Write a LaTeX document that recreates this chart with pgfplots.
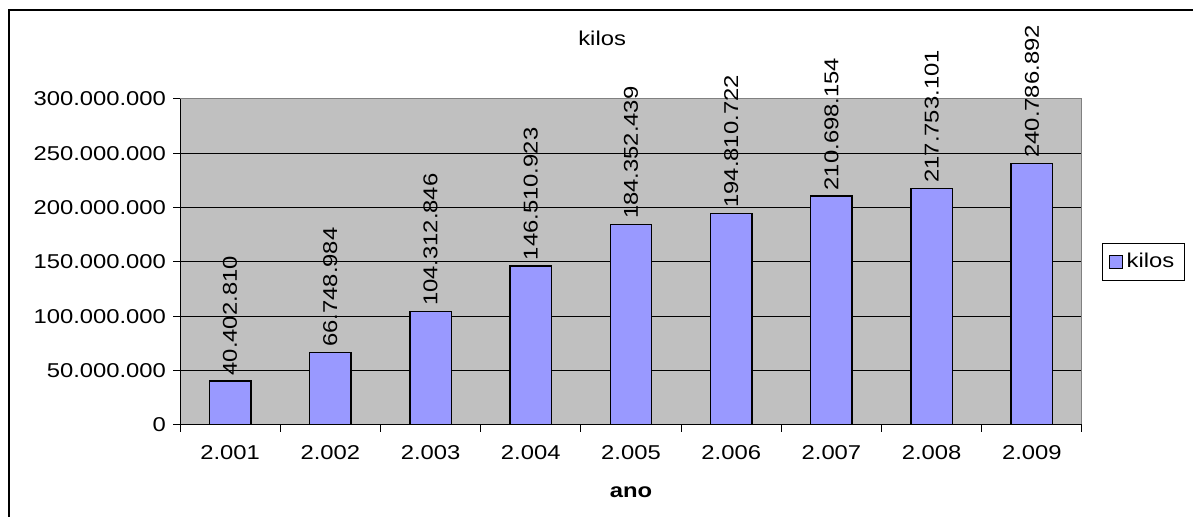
\documentclass[border=0pt]{standalone}
\usepackage{fontspec}
\setmainfont{Liberation Sans}[FakeStretch=1.19]
\usepackage{pgfplots}
\pgfplotsset{compat=1.18}
\usepackage{pgfplotstable}

\definecolor{plotgray}{HTML}{C0C0C0}
\definecolor{barblue}{HTML}{9999FF}
\definecolor{framegray}{HTML}{808080}

% kilos per year
\pgfplotstableread{
x y label
0 40402810 40.402.810
1 66748984 66.748.984
2 104312846 104.312.846
3 146510923 146.510.923
4 184352439 184.352.439
5 194810722 194.810.722
6 210698154 210.698.154
7 217753101 217.753.101
8 240786892 240.786.892
}\kilostable

\begin{document}
\fontsize{10}{12}\selectfont
\begin{tikzpicture}
\path[use as bounding box] (0,0) rectangle (596.5pt,258.5pt);
\draw[line width=1pt] (4.25pt,0) -- (4.25pt,253.5pt) -- (596.5pt,253.5pt);
\begin{axis}[
  at={(90pt,46pt)}, anchor=south west,
  scale only axis, width=451pt, height=163pt,
  xmin=-0.5, xmax=8.5, ymin=0, ymax=300000000,
  axis background/.style={fill=plotgray},
  axis line style={draw=none},
  ybar, bar width=20.7pt,
  xtick={0,1,2,3,4,5,6,7,8},
  xticklabels={2.001,2.002,2.003,2.004,2.005,2.006,2.007,2.008,2.009},
  xticklabel style={yshift=-3pt},
  minor xtick={-0.5,0.5,1.5,2.5,3.5,4.5,5.5,6.5,7.5,8.5},
  major x tick style={draw=none},
  minor x tick style={black, line width=0.5pt},
  xtick pos=bottom, ytick pos=left,
  ytick={0,50000000,100000000,150000000,200000000,250000000,300000000},
  yticklabels={0,50.000.000,100.000.000,150.000.000,200.000.000,250.000.000,300.000.000},
  scaled y ticks=false,
  y tick style={black, line width=0.5pt},
  tick align=outside,
  major tick length=3.5pt, minor tick length=3.5pt,
  ymajorgrids,
  major grid style={black, line width=0.5pt},
  title={kilos},
  every axis title shift=0pt,
  title style={at={(0.468,1.187)}, anchor=center},
  xlabel={\textbf{ano}},
  xlabel style={at={(0.5,-0.2055)}, anchor=center},
  legend style={at={(1.0222,0.5)}, anchor=west, draw=black, line width=0.5pt,
    inner xsep=3pt, inner ysep=3pt},
]
\addplot[fill=barblue, draw=black, line width=0.75pt,
  nodes near coords, point meta=explicit symbolic,
  every node near coord/.append style={rotate=90, anchor=west, inner sep=2.5pt, black},
  legend image code/.code={\draw[fill=barblue, draw=black, line width=0.6pt] (0pt,-3.25pt) rectangle (6.5pt,3.25pt);}]
  table[x=x, y=y, meta=label] {\kilostable};
\addlegendentry{kilos}
\draw[framegray, line width=0.5pt] (rel axis cs:0,1) -- (rel axis cs:1,1) -- (rel axis cs:1,0);
\draw[black, line width=0.5pt] (rel axis cs:0,1) -- (rel axis cs:0,0) -- (rel axis cs:1,0);
\end{axis}
\end{tikzpicture}
\end{document}
